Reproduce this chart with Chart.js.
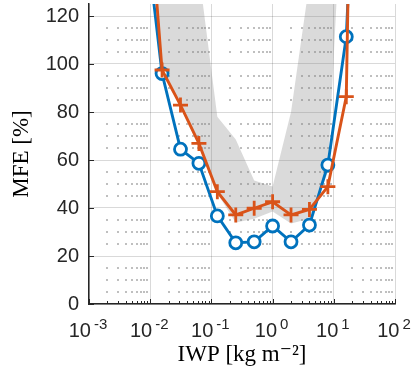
<!DOCTYPE html>
<html>
<head>
<meta charset="utf-8">
<script src="https://cdn.jsdelivr.net/npm/chart.js@4.4.1/dist/chart.umd.min.js"></script>
<style>
  html, body { margin: 0; padding: 0; background: #fff; }
</style>
</head>
<body>
<canvas id="Chart" width="412" height="372"></canvas>
<script>
// IWP bins [kg m-2]; the first and last bins sit outside the plotted range
const iwp = [1/128, 1/64, 1/32, 1/16, 1/8, 1/4, 1/2, 1, 2, 4, 8, 16, 32];
const mfeBlue   = [162, 96, 64.5, 58.6, 36.7, 25.5, 25.9, 32.5, 25.9, 32.9, 57.9, 111.4, 280];
const mfeOrange = [196, 97.5, 82.9, 66.9, 46.8, 37.1, 39.9, 42.6, 37.1, 39.4, 48.9, 86.4, 530];
// grey spread band
const bandUpper = [330, 330, 330, 138, 78, 68.5, 51.5, 49, 80, 134, 330, 330, 330];
const bandLower = [196, 97, 82.5, 66.5, 46, 34, 35.5, 38.5, 33.5, 35.5, 55, 206, 320];
// axes
const xTicks = [1e-3, 1e-2, 1e-1, 1, 10, 100];
const yTicks = [0, 20, 40, 60, 80, 100, 120];
const yMinorStep = 5;

const BLUE = '#0072BD';
const ORANGE = '#D95319';
const AXIS = '#262626';

const xMinor = [];
for (let k = -3; k < 2; k++) {
  for (let m = 2; m <= 9; m++) xMinor.push(m * Math.pow(10, k));
}

function pts(ys) {
  return iwp.map((x, i) => ({ x: x, y: ys[i] }));
}

// matlab style minor grid dots, inward ticks and 10^n labels
const matlabAxes = {
  id: 'matlabAxes',
  beforeDatasetsDraw(chart) {
    const { ctx, scales: { x, y } } = chart;
    ctx.save();
    ctx.fillStyle = 'rgba(0,0,0,0.25)';
    for (const xv of xMinor) {
      const px = Math.round(x.getPixelForValue(xv));
      for (let v = yMinorStep; v < y.max; v += yMinorStep) {
        if (v % 20 === 0) continue;
        const py = Math.round(y.getPixelForValue(v));
        ctx.fillRect(px - 1, py - 1, 2, 2);
      }
    }
    ctx.restore();
  },
  afterDraw(chart) {
    const { ctx, chartArea: a, scales: { x, y } } = chart;
    ctx.save();
    ctx.strokeStyle = AXIS;
    ctx.lineWidth = 1;
    ctx.beginPath();
    for (const xv of xTicks) {
      const px = Math.round(x.getPixelForValue(xv)) + 0.5;
      ctx.moveTo(px, a.bottom); ctx.lineTo(px, a.bottom - 5);
    }
    for (const xv of xMinor) {
      const px = Math.round(x.getPixelForValue(xv)) + 0.5;
      ctx.moveTo(px, a.bottom); ctx.lineTo(px, a.bottom - 3);
    }
    for (const yv of yTicks) {
      const py = Math.round(y.getPixelForValue(yv)) + 0.5;
      ctx.moveTo(a.left, py); ctx.lineTo(a.left + 5, py);
    }
    ctx.stroke();

    // x tick labels as 10 with a raised exponent
    ctx.fillStyle = AXIS;
    ctx.textBaseline = 'alphabetic';
    ctx.textAlign = 'left';
    const baseFont = '20px "Liberation Sans", Arial, sans-serif';
    const expFont = '15px "Liberation Sans", Arial, sans-serif';
    for (const xv of xTicks) {
      const e = String(Math.round(Math.log10(xv)));
      ctx.font = baseFont;
      const wb = ctx.measureText('10').width;
      ctx.font = expFont;
      const we = ctx.measureText(e).width;
      const total = wb + 3 + we;
      const px = x.getPixelForValue(xv);
      const x0 = px - total / 2 - 1;
      ctx.font = baseFont;
      ctx.fillText('10', x0, a.bottom + 33);
      ctx.font = expFont;
      ctx.fillText(e, x0 + wb + 3, a.bottom + 25);
    }
    ctx.restore();
  }
};

new Chart(document.getElementById('Chart'), {
  type: 'line',
  data: {
    datasets: [{
      label: 'blue',
      data: pts(mfeBlue),
      borderColor: BLUE,
      borderWidth: 2.9,
      pointStyle: 'circle',
      pointRadius: 6,
      pointBorderWidth: 2.8,
      pointBackgroundColor: '#fff',
      pointBorderColor: BLUE,
      fill: false,
      order: 1
    }, {
      label: 'orange',
      data: pts(mfeOrange),
      borderColor: ORANGE,
      borderWidth: 2.9,
      pointStyle: 'cross',
      pointRadius: 7.5,
      pointBorderWidth: 2.8,
      pointBorderColor: ORANGE,
      fill: false,
      order: 0
    }, {
      label: 'upper',
      data: pts(bandUpper),
      borderWidth: 0,
      pointRadius: 0,
      backgroundColor: 'rgba(120,120,120,0.27)',
      fill: '+1',
      order: 2
    }, {
      label: 'lower',
      data: pts(bandLower),
      borderWidth: 0,
      pointRadius: 0,
      fill: false,
      order: 3
    }]
  },
  options: {
    responsive: false,
    animation: false,
    layout: { autoPadding: false, padding: { top: 4, right: 17, left: 0, bottom: 0 } },
    plugins: {
      legend: { display: false },
      tooltip: { enabled: false }
    },
    scales: {
      x: {
        type: 'logarithmic',
        min: 1e-3,
        max: 1e2,
        afterBuildTicks: s => { s.ticks = xTicks.map(v => ({ value: v })); },
        afterFit: s => { s.height = 68; },
        ticks: { display: false },
        grid: { color: 'rgba(0,0,0,0.15)', lineWidth: 1, drawTicks: false },
        border: { color: AXIS, width: 1.5 },
        title: {
          display: true,
          text: 'IWP [kg m⁻²]',
          color: '#000',
          font: { family: '"Liberation Serif", "DejaVu Serif", serif', size: 23 },
          padding: { top: 0, bottom: 3 }
        }
      },
      y: {
        type: 'linear',
        min: 0,
        max: 125,
        afterBuildTicks: s => { s.ticks = yTicks.map(v => ({ value: v })); },
        afterFit: s => { s.width = 89; s.paddingTop = 0; s.paddingBottom = 0; },
        ticks: {
          color: AXIS,
          padding: 10,
          font: { family: '"Liberation Sans", Arial, sans-serif', size: 20 }
        },
        grid: { color: 'rgba(0,0,0,0.15)', lineWidth: 1, drawTicks: false },
        border: { color: AXIS, width: 1.5 },
        title: {
          display: true,
          text: 'MFE [%]',
          color: '#000',
          font: { family: '"Liberation Serif", "DejaVu Serif", serif', size: 23 },
          padding: { top: 8, bottom: 0 }
        }
      }
    }
  },
  plugins: [matlabAxes]
});
</script>
</body>
</html>
